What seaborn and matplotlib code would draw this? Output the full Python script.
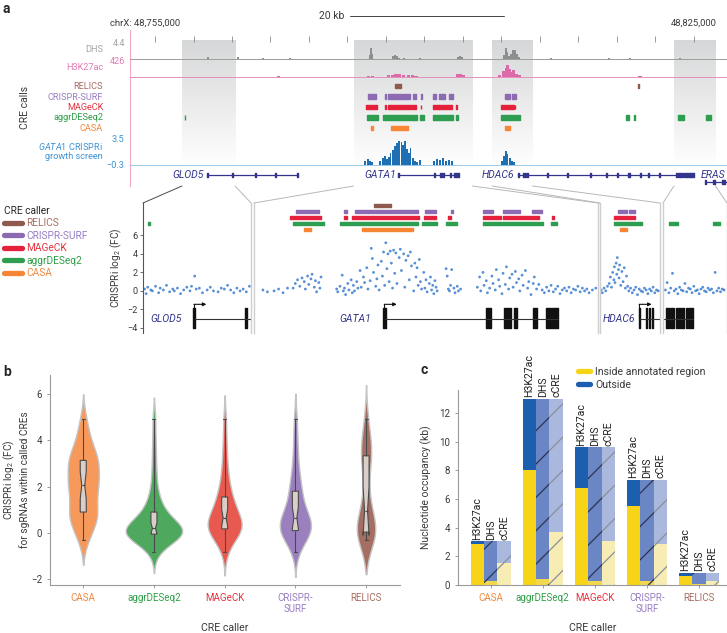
import numpy as np
import pandas as pd
import matplotlib
matplotlib.use('Agg')
import matplotlib.pyplot as plt
import seaborn as sns
from matplotlib.lines import Line2D
from matplotlib.patches import ConnectionPatch

# ---------------- data ----------------
# genome browser (chrX positions in kb)
highlight_regions = [(48758.5, 48765.4), (48780.8, 48796.2), (48798.8, 48804.0), (48822.4, 48827.8)]

dhs_pos = [48761.9, 48765.8, 48769.0, 48772.5, 48782.9, 48783.05, 48783.2, 48785.9, 48786.2, 48786.4,
           48786.7, 48787.3, 48789.4, 48794.35, 48794.6, 48794.9, 48800.3, 48800.6, 48800.7, 48801.0,
           48801.2, 48801.5, 48801.75, 48802.0, 48802.3, 48806.4, 48814.0, 48816.7, 48823.2]
dhs_val = [0.6, 0.5, 0.3, 0.2, 1.2, 3.1, 1.5, 0.8, 1.2, 0.9,
           0.4, 0.3, 0.3, 0.6, 0.8, 0.5, 1.2, 3.1, 2.0, 0.8,
           1.5, 2.6, 2.4, 1.3, 0.6, 0.15, 0.2, 0.2, 0.2]

h3k27ac_pos = [48771.0, 48782.7, 48783.2, 48785.3, 48785.8, 48786.3, 48786.8, 48787.3, 48787.9, 48788.4,
               48788.9, 48794.35, 48794.7, 48795.1, 48799.8, 48800.3, 48800.6, 48800.8, 48801.1, 48801.4,
               48801.6, 48801.9, 48802.4, 48818.0]
h3k27ac_val = [15, 30, 25, 40, 60, 70, 80, 60, 50, 40,
               30, 70, 90, 40, 60, 150, 250, 330, 200, 120,
               180, 80, 40, 15]

screen_pos = [48782.3, 48782.7, 48782.9, 48783.2, 48784.2, 48784.6, 48784.9, 48785.1, 48785.4, 48785.6,
              48785.9, 48786.2, 48786.4, 48786.7, 48787.0, 48787.2, 48787.5, 48787.7, 48788.0, 48788.2,
              48788.5, 48788.8, 48789.0, 48789.4, 48791.2, 48791.6, 48792.0, 48792.4, 48792.8, 48793.2,
              48793.6, 48800.1, 48800.3, 48800.6, 48800.8, 48801.1, 48801.4, 48801.6]
screen_val = [0.4, 0.7, 0.5, 0.3, 0.5, 0.9, 1.2, 0.7, 1.0, 1.6,
              2.0, 2.6, 3.0, 3.4, 3.2, 2.8, 3.3, 2.2, 1.6, 2.4,
              0.9, 0.5, 0.3, 0.6, 0.5, 0.7, 0.6, 0.8, 0.5, 0.6,
              0.4, 0.5, 1.1, 1.9, 1.5, 0.9, 0.5, 0.3]

cre_callers = ['RELICS', 'CRISPR-SURF', 'MAGeCK', 'aggrDESeq2', 'CASA']
relics_calls = [(48786.15, 48786.95), (48817.75, 48817.85)]
surf_calls = [(48782.7, 48783.7), (48784.85, 48784.95), (48785.3, 48788.15), (48788.45, 48788.95),
              (48789.6, 48789.7), (48791.05, 48791.5), (48791.95, 48792.7), (48793.25, 48793.7),
              (48800.4, 48801.1), (48801.35, 48801.85)]
mageck_calls = [(48782.4, 48783.8), (48784.85, 48784.95), (48785.2, 48788.2), (48788.4, 48788.95),
                (48789.5, 48789.6), (48791.05, 48791.85), (48791.95, 48793.55), (48794.15, 48794.25),
                (48800.0, 48801.6), (48801.7, 48801.8)]
aggr_calls = [(48758.85, 48758.95), (48782.55, 48783.95), (48784.65, 48788.15), (48788.3, 48789.0),
              (48789.4, 48789.9), (48791.05, 48793.75), (48794.1, 48794.35), (48800.0, 48801.9),
              (48802.0, 48802.4), (48816.2, 48816.6), (48817.25, 48817.35), (48822.9, 48823.7),
              (48826.6, 48827.2)]
casa_calls = [(48783.05, 48783.35), (48785.65, 48787.9), (48800.5, 48801.15)]

glod5_span = (48761.75, 48773.6)
glod5_exons = [(48761.7, 48761.85), (48765.0, 48765.15), (48768.0, 48768.15), (48770.6, 48770.75), (48773.4, 48773.6)]
gata1_span = (48786.63, 48794.43)
gata1_exons = [(48786.58, 48786.7), (48791.2, 48791.43), (48791.97, 48792.32), (48792.46, 48792.59),
               (48793.31, 48793.45), (48793.89, 48794.43)]
hdac6_span = (48802.15, 48824.95)
hdac6_exons = [(48802.15, 48802.3), (48802.8, 48802.9), (48803.05, 48803.15), (48803.3, 48803.4),
               (48805.9, 48806.05), (48808.5, 48808.65), (48811.5, 48811.65), (48813.6, 48813.75),
               (48815.0, 48815.15), (48816.5, 48816.65), (48818.0, 48818.15), (48819.0, 48819.15),
               (48820.5, 48820.65), (48822.67, 48822.92), (48823.0, 48823.35), (48823.5, 48823.6),
               (48823.7, 48823.85), (48823.95, 48824.05), (48824.1, 48824.2), (48824.35, 48824.45),
               (48824.5, 48824.95)]
eras_span = (48826.4, 48830.0)
eras_exons = [(48826.4, 48826.6), (48827.5, 48827.7), (48828.6, 48829.0)]
tss_pos = [48761.75, 48786.63, 48802.19]

# CRISPRi log2 FC of sgRNAs in the four zoomed windows
r1_pos = [48758.6, 48758.7, 48758.8, 48759.0, 48759.1, 48759.3, 48759.5, 48759.6, 48759.8, 48760.0,
          48760.2, 48760.4, 48760.5, 48760.7, 48760.9, 48761.1, 48761.3, 48761.5, 48761.6, 48761.8,
          48761.9, 48762.1, 48762.3, 48762.6, 48762.8, 48763.0, 48763.3, 48763.5, 48763.7, 48763.9,
          48764.1, 48764.3, 48764.5, 48764.7, 48764.9, 48765.1, 48765.3]
r1_lfc = [0.2, -0.3, 0.4, 0.1, 0.0, 0.5, -0.2, 0.3, 0.1, 0.6,
          -0.1, 0.2, 0.0, 0.3, -0.3, 0.1, 0.4, 0.0, 0.5, 1.6,
          0.2, 0.3, -0.2, 0.1, 0.4, 0.0, -0.1, 0.3, 0.2, 0.6,
          0.1, -0.2, 0.3, 0.0, 0.2, -0.1, 0.5]

r2_pos = [48781.2, 48781.4, 48781.7, 48781.9, 48782.1, 48782.3,
          48782.55, 48782.65, 48782.75, 48782.85, 48782.95, 48783.05, 48783.1, 48783.2, 48783.25, 48783.35,
          48783.4, 48783.5, 48783.55, 48783.6, 48783.7, 48783.75, 48783.8,
          48784.5, 48784.55, 48784.65, 48784.75, 48784.8, 48784.85, 48784.9, 48785.0, 48785.05, 48785.15,
          48785.2, 48785.25, 48785.3, 48785.4, 48785.45, 48785.55,
          48785.6, 48785.7, 48785.75, 48785.85, 48785.9, 48786.0, 48786.05, 48786.1, 48786.15, 48786.25,
          48786.3, 48786.35, 48786.4, 48786.5, 48786.55, 48786.6, 48786.65, 48786.7, 48786.75, 48786.8,
          48786.85, 48786.9, 48786.95, 48787.0, 48787.05, 48787.1,
          48787.15, 48787.2, 48787.3, 48787.35, 48787.4, 48787.5, 48787.55, 48787.6, 48787.7, 48787.75,
          48787.8, 48787.85, 48787.95, 48788.0, 48788.05, 48788.1, 48788.15, 48788.2, 48788.25, 48788.3,
          48788.4, 48788.45, 48788.5, 48788.55, 48788.65, 48788.7, 48788.75, 48788.8, 48788.85, 48788.9,
          48788.95, 48789.0,
          48789.4, 48789.45, 48789.5, 48789.55, 48789.6, 48789.65, 48789.75, 48789.8, 48789.9, 48789.95,
          48790.05,
          48790.8, 48790.9, 48790.95, 48791.05, 48791.1, 48791.2, 48791.25, 48791.35, 48791.45, 48791.5,
          48791.6, 48791.65, 48791.75, 48791.8, 48791.9, 48791.95, 48792.05, 48792.1, 48792.2, 48792.25,
          48792.35, 48792.4, 48792.5, 48792.55, 48792.65, 48792.7, 48792.8, 48792.85, 48792.95, 48793.05,
          48793.1, 48793.2, 48793.3, 48793.35, 48793.45, 48793.55,
          48793.7, 48793.8, 48793.9, 48794.0, 48794.1, 48794.2, 48794.3, 48794.4, 48794.5, 48794.6,
          48794.7, 48794.8, 48794.9, 48795.0, 48795.1, 48795.2, 48795.3, 48795.4, 48795.5, 48795.6,
          48795.7, 48795.8, 48795.95, 48796.1]
r2_lfc = [0.1, -0.1, 0.0, 0.2, -0.2, 0.3,
          0.3, 0.8, 1.2, 0.5, 1.4, 1.0, 0.2, 1.6, 0.7, 1.3,
          1.8, 0.4, 1.1, -0.1, 0.9, 0.3, 1.5,
          0.2, -0.1, 0.5, 1.7, 0.0, 0.3, -0.4, 0.8, 0.1, 1.2,
          -0.2, 0.6, 0.0, 1.0, 0.3, 2.2,
          0.4, 1.5, 0.9, 2.5, 0.2, 1.1, 4.6, 3.5, 2.0, 0.5,
          1.3, 2.8, 0.1, 3.2, 1.6, 4.2, 0.6, 5.2, 2.4, 4.0,
          1.0, 4.3, 3.0, 0.3, 4.4, 1.9,
          4.1, 0.8, 3.6, 4.5, 2.2, 4.0, 0.4, 3.3, 3.8, 1.2,
          4.2, 2.7, 0.0, 3.0, 1.5, 2.5, 0.6, 3.4, 1.0, 0.2,
          2.0, 0.3, 1.2, -0.1, 0.8, 1.5, 0.1, 0.6, -0.3, 1.1,
          0.4, 0.0,
          2.4, 1.6, 0.2, 0.0, 0.6, 2.3, 0.3, -0.2, 0.5, 0.0,
          0.2,
          0.4, 1.5, 0.0, 2.0, 0.6, 1.1, -0.2, 0.3, 1.6, 0.8,
          0.1, 2.3, 1.2, 0.5, -0.3, 1.9, 0.7, 2.6, 0.2, 1.4,
          1.8, 0.4, 2.1, 0.9, 1.3, 0.0, 1.7, 0.6, 2.2, 0.3,
          1.0, -0.4, 0.8, 1.5, 0.2, 0.7,
          0.1, -0.2, 0.4, 0.0, 0.6, -0.1, 0.2, 0.5, -0.3, 0.1,
          0.3, 0.0, 0.4, -0.2, 0.2, 0.1, 0.5, -0.1, 0.3, 0.0,
          0.2, -0.2, 0.1, 0.3]

r3_pos = [48798.9, 48799.0, 48799.15, 48799.3, 48799.45,
          48799.6, 48799.7, 48799.8, 48799.9, 48800.0, 48800.05, 48800.1, 48800.2, 48800.25, 48800.3,
          48800.4, 48800.45, 48800.5, 48800.6, 48800.7, 48800.8, 48800.9, 48801.0, 48801.1, 48801.2,
          48801.3, 48801.45, 48801.6, 48801.75, 48801.9, 48802.05, 48802.2, 48802.35, 48802.5,
          48802.65, 48802.8, 48802.95, 48803.1, 48803.25, 48803.4, 48803.55, 48803.7, 48803.85]
r3_lfc = [0.1, -0.2, 0.3, 0.0, 0.5,
          0.8, 1.5, 0.4, 2.0, 1.2, 2.6, 0.9, 3.0, 1.8, 3.6,
          2.3, 1.4, 2.8, 0.6, 2.1, 1.0, 2.5, 0.3, 1.6, 0.5,
          0.0, 0.3, -0.2, 0.1, 0.4, -0.4, 0.2, 0.0, -0.1,
          0.3, 0.1, -0.3, 0.2, 0.0, 0.4, -0.2, 0.1, 0.0]

r4_pos = [48822.6, 48822.75, 48822.9, 48823.05, 48823.2, 48823.35, 48823.5, 48823.65, 48823.8, 48823.95,
          48824.1, 48824.25, 48824.4, 48824.55, 48824.7, 48824.85, 48825.0, 48825.15, 48825.3, 48825.45,
          48825.6, 48825.75, 48825.9, 48826.05, 48826.2, 48826.35, 48826.5, 48826.65, 48826.8, 48826.95,
          48827.1, 48827.25, 48827.4, 48827.55]
r4_lfc = [0.1, 0.9, -0.2, 0.3, 1.9, 0.0, 0.2, -0.3, 0.4, 0.1,
          0.0, 0.8, -0.1, 0.3, 0.2, -0.2, 0.5, 0.0, 0.1, -0.3,
          0.2, 0.4, 0.0, -0.1, 0.3, 0.1, 0.2, -0.2, 2.0, 0.0,
          0.3, -0.1, 0.2, 0.1]

# panel b: log2 FC of sgRNAs inside called CREs
casa_lfc = [-0.3, -0.1, 0.1, 0.3, 0.5, 0.6, 0.7, 0.8, 0.9, 0.9, 1.0, 1.2, 1.4, 1.6, 1.8, 1.9, 2.0, 2.0,
            2.1, 2.2, 2.4, 2.5, 2.6, 2.8, 2.9, 3.0, 3.1, 3.2, 3.3, 3.3, 3.5, 3.7, 3.9, 4.2, 4.5, 4.9]
aggr_lfc = [-0.8, -0.5, -0.4, -0.3, -0.2, -0.2, -0.15, -0.1, -0.1, -0.05, -0.05, 0.0, 0.0, 0.0, 0.05,
            0.05, 0.1, 0.1, 0.15, 0.15, 0.2, 0.2, 0.25, 0.3, 0.35, 0.4, 0.5, 0.6, 0.7, 0.8, 0.9, 1.0,
            1.1, 1.3, 1.5, 1.8, 2.2, 2.7, 3.3, 4.0, 4.9]
mageck_lfc = [-0.8, -0.5, -0.3, -0.1, 0.0, 0.05, 0.1, 0.1, 0.15, 0.2, 0.2, 0.25, 0.3, 0.35, 0.4, 0.5,
              0.6, 0.65, 0.7, 0.8, 0.9, 1.0, 1.1, 1.2, 1.35, 1.5, 1.6, 1.8, 2.0, 2.3, 2.6, 3.0, 3.5, 4.1, 4.9]
surf_lfc = [-0.8, -0.5, -0.3, -0.15, -0.05, 0.0, 0.05, 0.1, 0.1, 0.15, 0.2, 0.25, 0.3, 0.4, 0.5, 0.6,
            0.65, 0.7, 0.8, 0.9, 1.0, 1.2, 1.4, 1.6, 1.8, 1.9, 2.1, 2.4, 2.7, 3.1, 3.6, 4.2, 4.9]
relics_lfc = [-0.3, -0.2, -0.1, -0.05, 0.0, 0.0, 0.05, 0.1, 0.2, 0.3, 0.5, 0.8, 1.1, 1.3, 1.8, 2.4,
              3.0, 3.3, 3.4, 3.5, 3.7, 4.0, 4.4, 4.9]

# panel c: nucleotide occupancy (kb)
c_order = ['CASA', 'aggrDESeq2', 'MAGeCK', 'CRISPR-SURF', 'RELICS']
annots = ['H3K27ac', 'DHS', 'cCRE']
occupancy_total = [3.05, 13.0, 9.6, 7.35, 0.85]
inside_h3k27ac = [2.85, 8.0, 6.8, 5.5, 0.6]
inside_dhs = [0.25, 0.4, 0.25, 0.3, 0.05]
inside_ccre = [1.5, 3.7, 3.1, 2.85, 0.3]

# ---------------- style ----------------
sns.set_theme(style='white')
plt.rcParams['font.family'] = ['Roboto', 'DejaVu Sans']
plt.rcParams['mathtext.fontset'] = 'custom'
plt.rcParams['mathtext.rm'] = 'Roboto'
plt.rcParams['mathtext.it'] = 'Roboto:italic'
plt.rcParams['hatch.linewidth'] = 0.9

NAVY = '#33358a'
GRAYTXT = '#3a3a3a'
caller_colors = {'RELICS': '#8e5a4e', 'CRISPR-SURF': '#8d6bb3', 'MAGeCK': '#e3213a',
                 'aggrDESeq2': '#2d9e4f', 'CASA': '#f68634'}
label_colors = {'RELICS': '#a86d62', 'CRISPR-SURF': '#9a7ec4', 'MAGeCK': '#e5323e',
                'aggrDESeq2': '#2f9e48', 'CASA': '#f0883e'}
violin_colors = {'CASA': '#f6995a', 'aggrDESeq2': '#4ea95f', 'MAGeCK': '#e85a4f',
                 'CRISPR-SURF': '#9b80bf', 'RELICS': '#a56e63'}
violin_width = {'CASA': 0.44, 'aggrDESeq2': 0.8, 'MAGeCK': 0.48, 'CRISPR-SURF': 0.44, 'RELICS': 0.26}
calls = {'RELICS': relics_calls, 'CRISPR-SURF': surf_calls, 'MAGeCK': mageck_calls,
         'aggrDESeq2': aggr_calls, 'CASA': casa_calls}

W, H = 727, 633
fig = plt.figure(figsize=(W / 100, H / 100), dpi=100)


def px_axes(x0, y0, x1, y1):
    ax = fig.add_axes([x0 / W, 1 - y1 / H, (x1 - x0) / W, (y1 - y0) / H])
    ax.patch.set_alpha(0)
    return ax


def ftext(x, y, s, **kw):
    fig.text(x / W, 1 - y / H, s, **kw)


XMIN, XMAX = 48751.75, 48829.3

# ---------------- panel a, browser ----------------
ax_bg = px_axes(130, 30, 727, 186)
fade = np.ones((100, 1, 4))
fade[..., :3] = [0.84, 0.845, 0.85]
fade[:, 0, 3] = np.clip(np.linspace(1.0, -0.15, 100), 0, 1)
for s, e in highlight_regions:
    ax_bg.imshow(fade, extent=(s, e, 186, 40), aspect='auto', interpolation='bilinear', zorder=0)
ax_bg.set_xlim(XMIN, XMAX)
ax_bg.set_ylim(186, 30)
ax_bg.vlines(np.arange(48755, 48830, 5), 36, 42, color='#8a8a8a', lw=0.6)
ax_bg.set_xticks([])
ax_bg.set_yticks([])
for sp in ['top', 'right', 'bottom']:
    ax_bg.spines[sp].set_visible(False)
ax_bg.spines['left'].set_color('#f4a9c6')
ax_bg.spines['left'].set_linewidth(0.8)
ax_bg.text(48753.7, 23, 'chrX: 48,755,000', ha='center', va='center', fontsize=6.8, color=GRAYTXT, clip_on=False)
ax_bg.text(48825.0, 23, '48,825,000', ha='center', va='center', fontsize=6.8, color=GRAYTXT, clip_on=False)
ax_bg.text(48779.6, 16, '20 kb', ha='right', va='center', fontsize=7.5, color=GRAYTXT, clip_on=False)
ax_bg.plot([48780.3, 48800.3], [16, 16], color='#444', lw=0.7, clip_on=False)

ax_dhs = px_axes(130, 43, 727, 59)
ax_dhs.bar(dhs_pos, dhs_val, width=0.25, color='#8e8e8e', linewidth=0)
ax_dhs.axhline(0, color='#9c9c9c', lw=0.7, clip_on=False)
ax_dhs.set_xlim(XMIN, XMAX)
ax_dhs.set_ylim(0, 4.4)
ax_dhs.axis('off')

ax_h3 = px_axes(130, 61, 727, 77)
ax_h3.bar(h3k27ac_pos, h3k27ac_val, width=0.4, color='#dd6aa8', linewidth=0)
ax_h3.axhline(0, color='#e58fbd', lw=0.7, clip_on=False)
ax_h3.set_xlim(XMIN, XMAX)
ax_h3.set_ylim(0, 426)
ax_h3.axis('off')

ax_cre = px_axes(130, 80.75, 727, 133.25)
for i, c in enumerate(cre_callers):
    ax_cre.broken_barh([(s, e - s) for s, e in calls[c]], (i - 0.23, 0.46), color=caller_colors[c])
ax_cre.set_xlim(XMIN, XMAX)
ax_cre.set_ylim(4.5, -0.5)
ax_cre.axis('off')

ax_scr = px_axes(130, 140, 727, 166)
ax_scr.axhline(-0.22, color='#9ccbec', lw=0.7)
ax_scr.bar(screen_pos, np.array(screen_val) + 0.3, bottom=-0.3, width=0.22, color='#1f6fb5', linewidth=0)
ax_scr.set_xlim(XMIN, XMAX)
ax_scr.set_ylim(-0.3, 3.5)
ax_scr.axis('off')

ax_gene = px_axes(130, 168, 727, 186)
genes = [('GLOD5', glod5_span, glod5_exons, 48761.3, 0.39),
         ('GATA1', gata1_span, gata1_exons, 48786.3, 0.39),
         ('HDAC6', hdac6_span, hdac6_exons, 48801.7, 0.39),
         ('ERAS', eras_span, eras_exons, None, 0.8)]
for name, (g0, g1), exons, lab, yl in genes:
    ax_gene.plot([g0, g1], [yl, yl], color=NAVY, lw=0.9)
    ax_gene.broken_barh([(a, b - a) for a, b in exons], (yl - 0.11, 0.22), color=NAVY)
    if lab is not None:
        ax_gene.text(lab, yl, name, ha='right', va='center', style='italic', color=NAVY, fontsize=7.5)
ax_gene.text(48825.9, 0.39, 'ERAS', ha='left', va='center', style='italic', color=NAVY, fontsize=7.5)
ax_gene.set_xlim(XMIN, XMAX)
ax_gene.set_ylim(1, 0)
ax_gene.axis('off')

lab_kw = dict(ha='right', va='center', fontsize=6.6)
ftext(103, 50, 'DHS', color='#a3a3a3', **lab_kw)
ftext(125, 43, '4.4', color='#a3a3a3', **lab_kw)
ftext(103, 68, 'H3K27ac', color='#e27ab5', **lab_kw)
ftext(125, 61, '426', color='#e27ab5', **lab_kw)
for i, c in enumerate(cre_callers):
    ftext(103, 86.5 + 10.5 * i, c, color=label_colors[c], **lab_kw)
ftext(103, 146, r'$\mathit{GATA1}$ CRISPRi', color='#3d93d4', **lab_kw)
ftext(103, 157, 'growth screen', color='#3d93d4', **lab_kw)
ftext(124, 140, '3.5', color='#3d93d4', **lab_kw)
ftext(124, 166, '\u22120.3', color='#3d93d4', **lab_kw)
ftext(25, 107, 'CRE calls', rotation=90, ha='center', va='center', fontsize=7.5, color=GRAYTXT)

# ---------------- panel a, zoomed screen ----------------
seg_px = [(143, 251), (254, 598), (600, 660), (663, 727)]
seg_points = [(r1_pos, r1_lfc), (r2_pos, r2_lfc), (r3_pos, r3_lfc), (r4_pos, r4_lfc)]
row_y = [9.25, 8.6, 7.95, 7.3, 6.65]
seg_axes = []
for i, ((x0, x1), (k0, k1), (pos, lfc)) in enumerate(zip(seg_px, highlight_regions, seg_points)):
    ax = px_axes(x0, 203, x1, 333)
    sns.scatterplot(x=pos, y=lfc, ax=ax, s=4, color='#3b7dcc', edgecolor='none', alpha=0.85, legend=False)
    for j, c in enumerate(cre_callers):
        ax.broken_barh([(s, e - s) for s, e in calls[c]], (row_y[j] - 0.17, 0.34), color=caller_colors[c])
    for name, (g0, g1), exons, lab, yl in genes[:3]:
        ax.plot([g0, g1], [-3.0, -3.0], color='#333', lw=0.8)
        ax.broken_barh([(a, b - a) for a, b in exons], (-4.0, 2.15), color='#111')
    for t in tss_pos:
        if k0 < t < k1:
            ax.plot([t, t], [-3.0, -1.45], color='#111', lw=0.8)
            ax.annotate('', xy=(t, -1.45), xytext=(9, 0), textcoords='offset points',
                        arrowprops=dict(arrowstyle='<|-', color='#111', lw=0.8, shrinkA=0, shrinkB=0,
                                        mutation_scale=5))
    ax.set_xlim(k0, k1)
    ax.set_ylim(-4.55, 9.5)
    ax.set_xticks([])
    ax.set_xlabel('')
    ax.spines['top'].set_visible(False)
    ax.spines['bottom'].set_visible(False)
    for sp in ['left', 'right']:
        ax.spines[sp].set_color('#cfcfcf')
        ax.spines[sp].set_linewidth(1.0)
    if i == 0:
        ax.spines['left'].set_color('#555')
        ax.spines['left'].set_linewidth(0.8)
        ax.set_yticks([-4, -2, 0, 2, 4, 6])
        ax.set_yticklabels(['\u22124', '\u22122', '0', '2', '4', '6'])
        ax.tick_params(axis='y', length=2, width=0.6, pad=2, labelsize=6.6, labelcolor=GRAYTXT,
                       color='#555', left=True, labelleft=True)
        ax.set_ylabel('CRISPRi log$_2$ (FC)', fontsize=7.3, color=GRAYTXT, labelpad=2)
    else:
        ax.set_yticks([])
    seg_axes.append(ax)

seg_axes[0].text(48760.0, -3.0, 'GLOD5', ha='center', va='center', style='italic', color=NAVY, fontsize=7.5)
seg_axes[1].text(48785.35, -3.0, 'GATA1', ha='center', va='center', style='italic', color=NAVY, fontsize=7.5)
seg_axes[2].text(48800.4, -3.0, 'HDAC6', ha='center', va='center', style='italic', color=NAVY, fontsize=7.5)

for i, region in enumerate(highlight_regions):
    for j, edge in enumerate(region):
        col = '#4a4a4a' if (i == 0 and j == 0) else '#b8b8b8'
        con = ConnectionPatch(xyA=(edge, 186), coordsA='data', axesA=ax_bg,
                              xyB=(edge, 9.5), coordsB='data', axesB=seg_axes[i], color=col, lw=0.7)
        fig.add_artist(con)

handles = [Line2D([0], [0], color=caller_colors[c], lw=3.8) for c in cre_callers]
fig.legend(handles, cre_callers, loc='upper left', bbox_to_anchor=(4 / W, 1 - 206 / H), frameon=False,
           title='CRE caller', alignment='left', fontsize=7.3, title_fontsize=7.3,
           labelcolor=[label_colors[c] for c in cre_callers], handlelength=1.8, handletextpad=0.4,
           labelspacing=0.24, borderaxespad=0, borderpad=0)

# ---------------- panel b ----------------
b_order = ['CASA', 'aggrDESeq2', 'MAGeCK', 'CRISPR-SURF', 'RELICS']
b_values = [casa_lfc, aggr_lfc, mageck_lfc, surf_lfc, relics_lfc]
df_b = pd.DataFrame({'caller': np.repeat(b_order, [len(v) for v in b_values]),
                     'lfc': np.concatenate(b_values)})
axb = px_axes(50, 375, 400, 585)
for c in b_order:
    sns.violinplot(data=df_b[df_b['caller'] == c], x='caller', y='lfc', order=b_order,
                   color=violin_colors[c], density_norm='width', width=violin_width[c], inner=None,
                   linewidth=1.0, linecolor='#c4c4c4', bw_adjust=0.8, saturation=1, ax=axb)
sns.boxplot(data=df_b, x='caller', y='lfc', order=b_order, width=0.085, color='#d9cfc8', notch=True,
            whis=(0, 100), showfliers=False, linewidth=0.8, linecolor='#4a4a4a', saturation=1, ax=axb)
axb.set_xlim(-0.47, 4.48)
axb.set_ylim(-2.24, 6.8)
axb.set_yticks([-2, 0, 2, 4, 6])
axb.set_yticklabels(['\u22122', '0', '2', '4', '6'])
axb.set_xticks(range(5))
axb.set_xticklabels(['CASA', 'aggrDESeq2', 'MAGeCK', 'CRISPR-\nSURF', 'RELICS'])
for lbl, c in zip(axb.get_xticklabels(), b_order):
    lbl.set_color(label_colors[c])
axb.tick_params(axis='both', labelsize=7, length=2, width=0.6, color='#888', bottom=True, left=True)
axb.tick_params(axis='y', labelcolor=GRAYTXT)
sns.despine(ax=axb)
for sp in ['left', 'bottom']:
    axb.spines[sp].set_color('#9a9a9a')
    axb.spines[sp].set_linewidth(0.8)
axb.set_xlabel('CRE caller', fontsize=7.6, color=GRAYTXT, labelpad=6)
axb.set_ylabel('CRISPRi log$_2$ (FC)\nfor sgRNAs within called CREs', fontsize=7.3, color=GRAYTXT,
               labelpad=1, linespacing=1.15)

# ---------------- panel c ----------------
df_c = pd.DataFrame({'caller': np.tile(c_order, 3), 'annot': np.repeat(annots, 5),
                     'total': np.tile(occupancy_total, 3),
                     'inside': np.concatenate([inside_h3k27ac, inside_dhs, inside_ccre])})
outside_colors = {'H3K27ac': '#1b5fae', 'DHS': '#6a86c5', 'cCRE': '#aab8dd'}
inside_colors = {'H3K27ac': '#f7d417', 'DHS': '#f2d84e', 'cCRE': '#f7edb4'}
axc = px_axes(458, 390, 727, 585)
sns.barplot(data=df_c, x='caller', y='total', hue='annot', order=c_order, hue_order=annots,
            palette=outside_colors, width=0.77, gap=0, errorbar=None, saturation=1, legend=False, ax=axc)
sns.barplot(data=df_c, x='caller', y='inside', hue='annot', order=c_order, hue_order=annots,
            palette=inside_colors, width=0.77, gap=0, errorbar=None, saturation=1, legend=False, ax=axc)
for k, cont in enumerate(axc.containers):
    a = annots[k % 3]
    for bar in cont:
        bar.set_linewidth(0)
        if a == 'DHS':
            bar.set_hatch('/')
            bar.set_edgecolor('#2c3350')
        elif a == 'cCRE':
            bar.set_hatch('/')
            bar.set_edgecolor('#8a8f9c')
for k in range(3):
    for bar in axc.containers[k]:
        axc.text(bar.get_x() + bar.get_width() / 2, bar.get_height() + 0.12, annots[k], rotation=90,
                 ha='center', va='bottom', fontsize=7.6, color='#222')
axc.set_xlim(-0.63, 4.54)
axc.set_ylim(0, 13.6)
axc.set_yticks([0, 2, 4, 6, 8, 10, 12])
axc.set_xticks(range(5))
axc.set_xticklabels(['CASA', 'aggrDESeq2', 'MAGeCK', 'CRISPR-\nSURF', 'RELICS'])
for lbl, c in zip(axc.get_xticklabels(), c_order):
    lbl.set_color(label_colors[c])
axc.tick_params(axis='both', labelsize=7, length=2, width=0.6, color='#888', bottom=True, left=True)
axc.tick_params(axis='y', labelcolor=GRAYTXT)
sns.despine(ax=axc)
for sp in ['left', 'bottom']:
    axc.spines[sp].set_color('#9a9a9a')
    axc.spines[sp].set_linewidth(0.8)
axc.set_xlabel('CRE caller', fontsize=7.6, color=GRAYTXT, labelpad=6)
axc.set_ylabel('Nucleotide occupancy (kb)', fontsize=7.5, color=GRAYTXT, labelpad=5)
fig.legend([Line2D([0], [0], color=inside_colors['H3K27ac'], lw=3.8),
            Line2D([0], [0], color=outside_colors['H3K27ac'], lw=3.8)],
           ['Inside annotated region', 'Outside'], loc='upper left',
           bbox_to_anchor=(578 / W, 1 - 367 / H), frameon=False, fontsize=7.6,
           handlelength=1.1, handletextpad=0.5, labelspacing=0.25, borderaxespad=0, borderpad=0,
           labelcolor=GRAYTXT)

# panel letters
ftext(3, 9, 'a', fontsize=10, weight='bold', va='center')
ftext(3, 372, 'b', fontsize=10, weight='bold', va='center')
ftext(420, 370, 'c', fontsize=10, weight='bold', va='center')

fig.savefig('out.png', dpi=100)
